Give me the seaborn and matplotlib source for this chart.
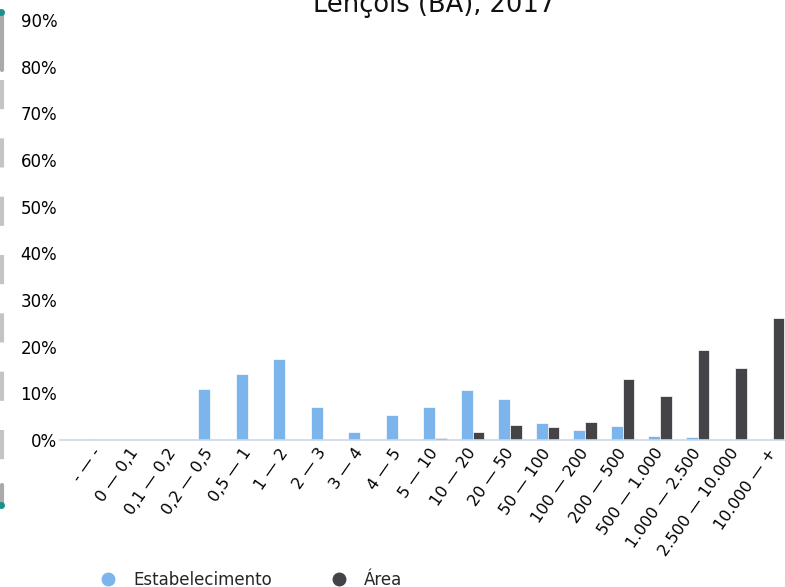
import matplotlib
matplotlib.use("Agg")
import matplotlib.pyplot as plt
import matplotlib.transforms as mtransforms
import seaborn as sns
import pandas as pd
from matplotlib.lines import Line2D
from matplotlib.ticker import FuncFormatter

# classes de área (ha)
classes = ["- — -", "0 — 0,1", "0,1 — 0,2", "0,2 — 0,5", "0,5 — 1", "1 — 2",
           "2 — 3", "3 — 4", "4 — 5", "5 — 10", "10 — 20", "20 — 50",
           "50 — 100", "100 — 200", "200 — 500", "500 — 1.000",
           "1.000 — 2.500", "2.500 — 10.000", "10.000 — +"]

# percentuais (%)
estabelecimento = [0.25, 0.0, 0.0, 11.0, 14.1, 17.3, 7.1, 1.8, 5.3, 7.1,
                   10.7, 8.7, 3.6, 2.1, 3.1, 0.9, 0.6, 0.0, 0.0]
area = [0.0, 0.0, 0.0, 0.0, 0.0, 0.0, 0.0, 0.0, 0.0, 0.4,
        1.7, 3.2, 2.8, 3.8, 13.0, 9.4, 19.3, 15.4, 26.1]

series = ["Estabelecimento", "Área"]
cores = ["#7cb5ec", "#434348"]

df = pd.DataFrame({
    "classe": classes * 2,
    "serie": [series[0]] * len(classes) + [series[1]] * len(classes),
    "valor": [v / 100 for v in estabelecimento + area],
})

sns.set_style("white")
plt.rcParams["font.family"] = ["DejaVu Sans"]

fig = plt.figure(figsize=(7.85, 5.87), dpi=100)
ax = fig.add_axes([60 / 785, 147 / 587, 725 / 785, 420 / 587])

sns.barplot(data=df, x="classe", y="valor", hue="serie", order=classes,
            hue_order=series, palette=cores, saturation=1, width=0.62, ax=ax,
            edgecolor="white", linewidth=0.5, legend=False)

ax.set_xlim(-1, 18.33)
ax.set_ylim(0, 0.9)
ax.set_yticks([i / 10 for i in range(10)])
ax.yaxis.set_major_formatter(FuncFormatter(lambda v, p: f"{v * 100:.0f}%"))
ax.set_xlabel("")
ax.set_ylabel("")
ax.tick_params(axis="both", length=0, labelsize=12, colors="#000000")
ax.tick_params(axis="x", labelsize=11.5, pad=4)
ax.tick_params(axis="y", pad=2)

# rótulos do eixo x inclinados, deslocados um pouco para a esquerda
desloc = mtransforms.ScaledTranslation(-6 / 100, 0, fig.dpi_scale_trans)
for rot in ax.get_xticklabels():
    rot.set_rotation(55)
    rot.set_ha("right")
    rot.set_rotation_mode("anchor")
    rot.set_transform(rot.get_transform() + desloc)

for lado in ["top", "right", "left"]:
    ax.spines[lado].set_visible(False)
ax.spines["bottom"].set_color("#ccd6eb")
ax.spines["bottom"].set_linewidth(1.2)

fig.text(434 / 785, 1 - 12 / 587, "Lençóis (BA), 2017", ha="center",
         va="baseline", fontsize=18.5, color="#111111")

handles = [Line2D([], [], marker="o", linestyle="", markersize=9,
                  markerfacecolor=c, markeredgecolor=c) for c in cores]
fig.legend(handles, series, loc="center left",
           bbox_to_anchor=(100 / 785, 1 - 580 / 587), ncol=2, frameon=False,
           fontsize=12, handlelength=1, handletextpad=1.0,
           columnspacing=3.5, borderpad=0, borderaxespad=0)

# barra lateral (navegador) à esquerda
fig.add_artist(Line2D([1.5 / 785] * 2, [1 - 14 / 587, 1 - 70 / 587],
                      color="#aaaaaa", lw=3, transform=fig.transFigure))
fig.add_artist(Line2D([1.5 / 785] * 2, [1 - 80 / 587, 1 - 485 / 587],
                      color="#c4c4c4", lw=3, linestyle=(0, (7, 7)),
                      transform=fig.transFigure))
fig.add_artist(Line2D([1.5 / 785] * 2, [1 - 485 / 587, 1 - 504 / 587],
                      color="#aaaaaa", lw=3, transform=fig.transFigure))
for yy in [12, 505]:
    fig.add_artist(Line2D([0.5 / 785], [1 - yy / 587], marker="o",
                          markersize=4, color="#1a9090",
                          transform=fig.transFigure))

fig.savefig("out.png", dpi=100)
